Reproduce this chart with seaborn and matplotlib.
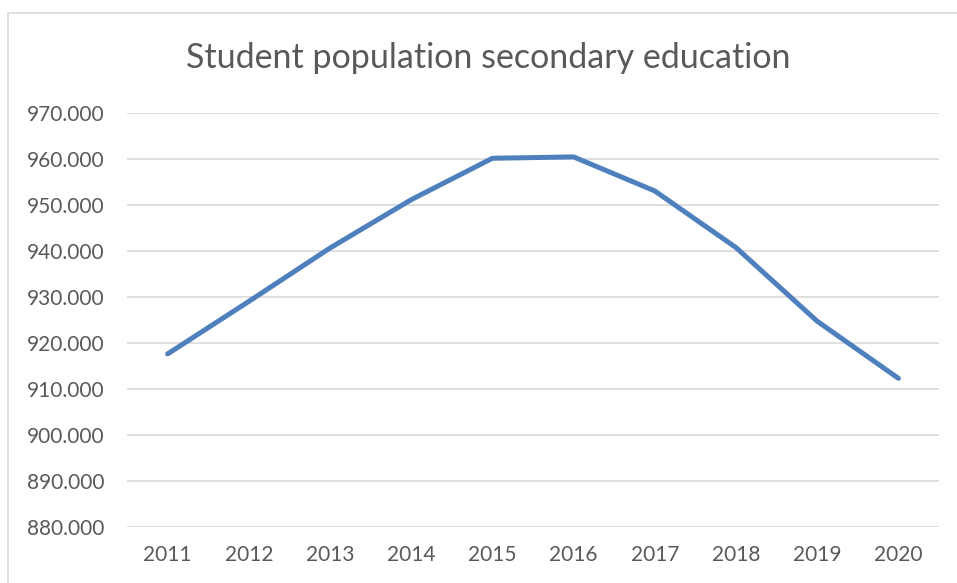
import numpy as np
import pandas as pd
import matplotlib
matplotlib.use("Agg")
import matplotlib.pyplot as plt
import seaborn as sns
from matplotlib.ticker import FuncFormatter
from matplotlib.patches import Rectangle

years = [2011, 2012, 2013, 2014, 2015, 2016, 2017, 2018, 2019, 2020]
students = [917600, 929000, 940600, 951100, 960100, 960400, 953000, 940700, 924700, 912300]

df = pd.DataFrame({"year": years, "students": students})

sns.set_style("white")
plt.rcParams["font.family"] = ["Lato", "DejaVu Sans"]

fig = plt.figure(figsize=(9.57, 5.83), dpi=100)
ax = fig.add_axes([127 / 957, 1 - 527 / 583, (939 - 127) / 957, (527 - 112.7) / 583])

# outer chart frame (cropped at the right and bottom, as in the original)
fig.patches.append(Rectangle((8 / 957, -0.1), 1.2, 1 - 13 / 583 + 0.1, transform=fig.transFigure,
                             fill=False, edgecolor="#d9d9d9", linewidth=1.2))

sns.lineplot(data=df, x="year", y="students", ax=ax, color="#4e80bd", linewidth=3.6,
             solid_capstyle="round", solid_joinstyle="miter")

ax.set_xlim(2010.5, 2020.5)
ax.set_ylim(880000, 970000)
ax.set_yticks(np.arange(880000, 970001, 10000))
ax.set_xticks(years)
ax.yaxis.set_major_formatter(FuncFormatter(lambda v, p: f"{v:,.0f}".replace(",", ".")))
ax.grid(axis="y", color="#d9d9d9", linewidth=1.2)
ax.set_axisbelow(True)
for s in ax.spines.values():
    s.set_visible(False)
ax.tick_params(axis="both", length=0, labelsize=15, labelcolor="#595959")
ax.tick_params(axis="y", pad=16.5)
ax.tick_params(axis="x", pad=13)
ax.set_xlabel("")
ax.set_ylabel("")

fig.text(488 / 957, 1 - 58 / 583, "Student population secondary education", ha="center", va="center",
         fontsize=24.5, color="#595959")

fig.savefig("out.png", dpi=100)
